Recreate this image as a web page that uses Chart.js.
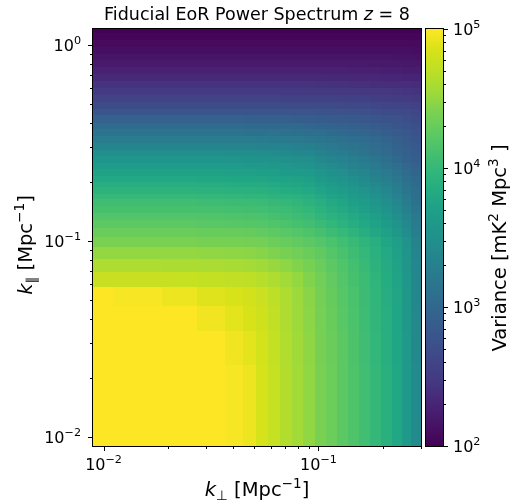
<!DOCTYPE html>
<html>
<head>
<meta charset="utf-8">
<script src="https://cdn.jsdelivr.net/npm/chart.js@4"></script>
<style>
  html, body { margin: 0; padding: 0; background: #fff; }
  canvas { display: block; }
</style>
</head>
<body>
<canvas id="ps" width="522" height="504"></canvas>
<script>
// bin edges [Mpc^-1]
const kPerpEdges = [0.00893, 0.0111, 0.0187, 0.0272, 0.0368, 0.0445, 0.051, 0.058, 0.066, 0.075, 0.085,
  0.096, 0.108, 0.122, 0.137, 0.154, 0.173, 0.195, 0.22, 0.245, 0.27, 0.3];
const kParEdges = [0.009, 0.0232, 0.0348, 0.0464, 0.058, 0.0696, 0.0812, 0.0928, 0.1044, 0.116, 0.1276,
  0.1392, 0.1508, 0.1624, 0.174, 0.187, 0.2, 0.215, 0.232, 0.25, 0.27, 0.29, 0.315, 0.34, 0.37, 0.4,
  0.435, 0.47, 0.51, 0.555, 0.6, 0.65, 0.705, 0.765, 0.83, 0.9, 0.975, 1.06, 1.15, 1.2];

// log10 of variance [mK^2 Mpc^3], one row per k_par bin, bottom row first
const logVariance = [
  [5.3, 5.3, 5.3, 5.2, 4.97, 4.93, 4.84, 4.75, 4.65, 4.56, 4.49, 4.4, 4.32, 4.24, 4.16, 4.08, 3.99, 3.89, 3.79, 3.62, 3.42],
  [5.3, 5.3, 5.25, 5.1, 4.95, 4.9, 4.83, 4.74, 4.64, 4.55, 4.48, 4.39, 4.31, 4.23, 4.15, 4.07, 3.98, 3.88, 3.78, 3.61, 3.41],
  [5.2, 5.15, 5.05, 4.95, 4.9, 4.85, 4.8, 4.72, 4.62, 4.54, 4.47, 4.38, 4.3, 4.22, 4.14, 4.06, 3.97, 3.87, 3.77, 3.6, 3.4],
  [5.02, 4.97, 4.93, 4.88, 4.85, 4.82, 4.77, 4.7, 4.62, 4.53, 4.46, 4.37, 4.29, 4.21, 4.13, 4.05, 3.96, 3.86, 3.76, 3.59, 3.39],
  [4.76, 4.76, 4.75, 4.74, 4.72, 4.7, 4.67, 4.62, 4.56, 4.5, 4.43, 4.35, 4.27, 4.19, 4.12, 4.04, 3.95, 3.85, 3.75, 3.58, 3.38],
  [4.62, 4.62, 4.61, 4.6, 4.59, 4.57, 4.55, 4.52, 4.48, 4.43, 4.38, 4.31, 4.24, 4.17, 4.1, 4.02, 3.93, 3.83, 3.73, 3.57, 3.37],
  [4.5, 4.5, 4.5, 4.49, 4.48, 4.47, 4.45, 4.42, 4.39, 4.35, 4.31, 4.26, 4.2, 4.13, 4.06, 3.99, 3.9, 3.81, 3.71, 3.55, 3.36],
  [4.4, 4.4, 4.4, 4.39, 4.38, 4.37, 4.36, 4.33, 4.3, 4.27, 4.23, 4.19, 4.14, 4.08, 4.02, 3.95, 3.87, 3.78, 3.69, 3.53, 3.34],
  [4.31, 4.31, 4.31, 4.3, 4.3, 4.29, 4.27, 4.25, 4.22, 4.19, 4.16, 4.11, 4.05, 4.0, 3.94, 3.86, 3.79, 3.7, 3.6, 3.45, 3.28],
  [4.23, 4.23, 4.23, 4.22, 4.21, 4.2, 4.19, 4.17, 4.14, 4.11, 4.08, 4.03, 3.98, 3.92, 3.86, 3.8, 3.72, 3.63, 3.54, 3.4, 3.24],
  [4.18, 4.18, 4.18, 4.17, 4.16, 4.15, 4.14, 4.12, 4.09, 4.06, 4.03, 3.97, 3.92, 3.87, 3.81, 3.75, 3.67, 3.58, 3.49, 3.36, 3.21],
  [4.12, 4.12, 4.12, 4.11, 4.1, 4.09, 4.08, 4.06, 4.04, 4.01, 3.98, 3.92, 3.86, 3.81, 3.75, 3.69, 3.61, 3.53, 3.43, 3.3, 3.17],
  [4.07, 4.07, 4.07, 4.06, 4.05, 4.04, 4.03, 4.01, 3.99, 3.96, 3.93, 3.87, 3.81, 3.76, 3.69, 3.63, 3.55, 3.46, 3.37, 3.25, 3.13],
  [4.0, 4.0, 4.0, 3.99, 3.98, 3.97, 3.96, 3.94, 3.92, 3.9, 3.87, 3.81, 3.75, 3.7, 3.64, 3.58, 3.5, 3.42, 3.33, 3.22, 3.1],
  [3.93, 3.93, 3.93, 3.92, 3.91, 3.9, 3.89, 3.87, 3.85, 3.83, 3.8, 3.74, 3.69, 3.64, 3.58, 3.52, 3.45, 3.37, 3.28, 3.18, 3.07],
  [3.87, 3.87, 3.87, 3.86, 3.85, 3.84, 3.83, 3.81, 3.79, 3.77, 3.74, 3.68, 3.63, 3.58, 3.52, 3.47, 3.4, 3.32, 3.24, 3.14, 3.04],
  [3.8, 3.8, 3.8, 3.79, 3.78, 3.77, 3.76, 3.74, 3.72, 3.7, 3.68, 3.62, 3.57, 3.52, 3.46, 3.41, 3.34, 3.27, 3.19, 3.1, 3.01],
  [3.73, 3.73, 3.73, 3.72, 3.71, 3.7, 3.69, 3.67, 3.65, 3.63, 3.61, 3.55, 3.5, 3.46, 3.4, 3.35, 3.28, 3.21, 3.14, 3.05, 2.97],
  [3.65, 3.65, 3.65, 3.64, 3.63, 3.62, 3.61, 3.6, 3.58, 3.56, 3.54, 3.48, 3.43, 3.39, 3.34, 3.29, 3.22, 3.15, 3.08, 3.0, 2.93],
  [3.56, 3.56, 3.56, 3.55, 3.55, 3.54, 3.53, 3.52, 3.5, 3.48, 3.46, 3.41, 3.36, 3.32, 3.27, 3.22, 3.16, 3.09, 3.02, 2.95, 2.89],
  [3.46, 3.46, 3.46, 3.46, 3.45, 3.45, 3.44, 3.43, 3.41, 3.39, 3.37, 3.32, 3.28, 3.24, 3.19, 3.15, 3.09, 3.03, 2.96, 2.9, 2.85],
  [3.36, 3.36, 3.36, 3.36, 3.35, 3.35, 3.34, 3.33, 3.32, 3.3, 3.29, 3.25, 3.21, 3.18, 3.14, 3.11, 3.05, 3.0, 2.95, 2.89, 2.83],
  [3.25, 3.25, 3.25, 3.25, 3.25, 3.24, 3.24, 3.23, 3.22, 3.21, 3.19, 3.17, 3.14, 3.11, 3.08, 3.05, 3.0, 2.96, 2.9, 2.86, 2.8],
  [3.14, 3.14, 3.14, 3.14, 3.14, 3.13, 3.13, 3.12, 3.11, 3.1, 3.09, 3.07, 3.04, 3.02, 2.99, 2.97, 2.93, 2.89, 2.86, 2.82, 2.77],
  [3.03, 3.03, 3.03, 3.03, 3.03, 3.02, 3.02, 3.01, 3.01, 3.0, 2.99, 2.97, 2.95, 2.94, 2.91, 2.89, 2.87, 2.83, 2.8, 2.77, 2.72],
  [2.92, 2.92, 2.92, 2.92, 2.92, 2.91, 2.91, 2.9, 2.9, 2.89, 2.88, 2.87, 2.85, 2.84, 2.83, 2.81, 2.79, 2.77, 2.75, 2.72, 2.67],
  [2.8, 2.8, 2.8, 2.8, 2.8, 2.8, 2.8, 2.79, 2.79, 2.78, 2.78, 2.77, 2.76, 2.75, 2.74, 2.73, 2.71, 2.69, 2.68, 2.66, 2.62],
  [2.69, 2.69, 2.69, 2.69, 2.69, 2.69, 2.69, 2.68, 2.68, 2.68, 2.67, 2.67, 2.66, 2.65, 2.65, 2.64, 2.63, 2.61, 2.6, 2.59, 2.56],
  [2.58, 2.58, 2.58, 2.58, 2.58, 2.58, 2.58, 2.58, 2.57, 2.57, 2.57, 2.56, 2.56, 2.55, 2.55, 2.54, 2.53, 2.52, 2.51, 2.5, 2.48],
  [2.49, 2.49, 2.49, 2.49, 2.49, 2.49, 2.49, 2.49, 2.49, 2.49, 2.48, 2.48, 2.48, 2.47, 2.47, 2.46, 2.46, 2.45, 2.44, 2.43, 2.42],
  [2.41, 2.41, 2.41, 2.41, 2.41, 2.41, 2.41, 2.41, 2.41, 2.41, 2.41, 2.4, 2.4, 2.4, 2.39, 2.39, 2.38, 2.38, 2.37, 2.37, 2.36],
  [2.34, 2.34, 2.34, 2.34, 2.34, 2.34, 2.34, 2.34, 2.34, 2.34, 2.34, 2.34, 2.33, 2.33, 2.33, 2.32, 2.32, 2.31, 2.31, 2.3, 2.3],
  [2.27, 2.27, 2.27, 2.27, 2.27, 2.27, 2.27, 2.27, 2.27, 2.27, 2.27, 2.27, 2.27, 2.27, 2.26, 2.26, 2.26, 2.25, 2.25, 2.24, 2.24],
  [2.21, 2.21, 2.21, 2.21, 2.21, 2.21, 2.21, 2.21, 2.21, 2.21, 2.21, 2.21, 2.21, 2.21, 2.21, 2.21, 2.2, 2.2, 2.2, 2.19, 2.19],
  [2.16, 2.16, 2.16, 2.16, 2.16, 2.16, 2.16, 2.16, 2.16, 2.16, 2.16, 2.16, 2.16, 2.16, 2.16, 2.16, 2.16, 2.16, 2.15, 2.15, 2.14],
  [2.12, 2.12, 2.12, 2.12, 2.12, 2.12, 2.12, 2.12, 2.12, 2.12, 2.12, 2.12, 2.12, 2.12, 2.12, 2.12, 2.12, 2.12, 2.12, 2.12, 2.11],
  [2.08, 2.08, 2.08, 2.08, 2.08, 2.08, 2.08, 2.08, 2.08, 2.08, 2.08, 2.08, 2.08, 2.08, 2.08, 2.08, 2.08, 2.08, 2.08, 2.08, 2.08],
  [2.04, 2.04, 2.04, 2.04, 2.04, 2.04, 2.04, 2.04, 2.04, 2.04, 2.04, 2.04, 2.04, 2.04, 2.04, 2.04, 2.04, 2.04, 2.04, 2.04, 2.04],
  [2.01, 2.01, 2.01, 2.01, 2.01, 2.01, 2.01, 2.01, 2.01, 2.01, 2.01, 2.01, 2.01, 2.01, 2.01, 2.01, 2.01, 2.01, 2.01, 2.01, 2.01]
];

// tick positions
const xTicks = [0.01, 0.02, 0.03, 0.04, 0.05, 0.06, 0.07, 0.08, 0.09, 0.1, 0.2, 0.3];
const yTicks = [0.01, 0.02, 0.03, 0.04, 0.05, 0.06, 0.07, 0.08, 0.09, 0.1, 0.2, 0.3, 0.4, 0.5, 0.6, 0.7, 0.8, 0.9, 1];
const cbTicks = [1e2, 2e2, 3e2, 4e2, 5e2, 6e2, 7e2, 8e2, 9e2, 1e3, 2e3, 3e3, 4e3, 5e3, 6e3, 7e3, 8e3, 9e3,
  1e4, 2e4, 3e4, 4e4, 5e4, 6e4, 7e4, 8e4, 9e4, 1e5];
const cbRange = [1e2, 1e5];

// viridis, 21 stops
const viridis = ['#440154', '#471365', '#482475', '#453781', '#414487', '#3b528b', '#355f8d', '#2f6c8e',
  '#2a788e', '#25848e', '#21918c', '#1e9c89', '#22a884', '#2fb47c', '#44bf70', '#5ec962', '#7ad151',
  '#a0da39', '#bddf26', '#d8e219', '#fde725'];

const FAM = '"DejaVu Sans"';
const fTick = '16px ' + FAM, fTickSup = '11.2px ' + FAM;
const fLab = '19.5px ' + FAM, fLabIt = 'italic 19.5px ' + FAM, fLabSup = '13.6px ' + FAM;
const fTitle = '17.5px ' + FAM, fTitleIt = 'italic 17.5px ' + FAM;

function hexRgb(h) {
  return [parseInt(h.slice(1, 3), 16), parseInt(h.slice(3, 5), 16), parseInt(h.slice(5, 7), 16)];
}
const vRgb = viridis.map(hexRgb);

function colorFor(logv) {
  let t = (logv - Math.log10(cbRange[0])) / (Math.log10(cbRange[1]) - Math.log10(cbRange[0]));
  t = Math.min(1, Math.max(0, t));
  const f = t * (vRgb.length - 1);
  const i = Math.min(vRgb.length - 2, Math.floor(f));
  const u = f - i;
  const c = vRgb[i].map((v, k) => Math.round(v + (vRgb[i + 1][k] - v) * u));
  return 'rgb(' + c.join(',') + ')';
}

function drawRich(ctx, parts, x, y, align) {
  let w = 0;
  for (const p of parts) { ctx.font = p.font; w += ctx.measureText(p.text).width; }
  let cx = align === 'center' ? x - w / 2 : align === 'right' ? x - w : x;
  ctx.textAlign = 'left';
  ctx.textBaseline = 'alphabetic';
  for (const p of parts) {
    ctx.font = p.font;
    ctx.fillText(p.text, cx, y + (p.dy || 0));
    cx += ctx.measureText(p.text).width;
  }
}

function powParts(v) {
  const e = Math.round(Math.log10(v));
  return [{ text: '10', font: fTick }, { text: e < 0 ? '\u2212' + (-e) : String(e), font: fTickSup, dy: -7 }];
}
const isMajor = v => Math.abs(Math.log10(v) - Math.round(Math.log10(v))) < 1e-6;

const heatmap = {
  id: 'heatmap',
  beforeDatasetsDraw(chart) {
    const { ctx, scales: { x, y } } = chart;
    ctx.save();
    for (let j = 0; j < logVariance.length; j++) {
      const yb = Math.round(y.getPixelForValue(kParEdges[j]));
      const yt = Math.round(y.getPixelForValue(kParEdges[j + 1]));
      for (let i = 0; i < logVariance[j].length; i++) {
        const x0 = Math.round(x.getPixelForValue(kPerpEdges[i]));
        const x1 = Math.round(x.getPixelForValue(kPerpEdges[i + 1]));
        ctx.fillStyle = colorFor(logVariance[j][i]);
        ctx.fillRect(x0, yt, x1 - x0, yb - yt);
      }
    }
    ctx.restore();
  },
  afterDraw(chart) {
    const { ctx, chartArea: a, scales: { x, y, gap, cb } } = chart;
    ctx.save();
    ctx.strokeStyle = '#000';
    ctx.fillStyle = '#000';
    ctx.lineWidth = 1;

    // spines
    ctx.strokeRect(a.left - 0.5, a.top - 0.5, a.right - a.left + 1, a.bottom - a.top + 1);

    // x and y ticks
    ctx.beginPath();
    for (const v of xTicks) {
      const px = Math.round(x.getPixelForValue(v)) + 0.5;
      ctx.moveTo(px, a.bottom + 0.5);
      ctx.lineTo(px, a.bottom + (isMajor(v) ? 5 : 3));
    }
    for (const v of yTicks) {
      const py = Math.round(y.getPixelForValue(v)) + 0.5;
      ctx.moveTo(a.left - 0.5, py);
      ctx.lineTo(a.left - (isMajor(v) ? 5 : 3), py);
    }
    ctx.stroke();

    for (const v of xTicks.filter(isMajor)) drawRich(ctx, powParts(v), x.getPixelForValue(v), a.bottom + 24, 'center');
    for (const v of yTicks.filter(isMajor)) drawRich(ctx, powParts(v), a.left - 12, y.getPixelForValue(v) + 6, 'right');

    // colorbar
    const cx0 = gap.left + 5, cx1 = gap.right;
    const ct = cb.getPixelForValue(cbRange[1]), cbm = cb.getPixelForValue(cbRange[0]);
    const grad = ctx.createLinearGradient(0, cbm, 0, ct);
    viridis.forEach((c, k) => grad.addColorStop(k / (viridis.length - 1), c));
    ctx.fillStyle = grad;
    ctx.fillRect(cx0, ct, cx1 - cx0, cbm - ct);
    ctx.strokeRect(cx0 - 0.5, ct - 0.5, cx1 - cx0 + 1, cbm - ct + 1);
    ctx.fillStyle = '#000';
    ctx.beginPath();
    for (const v of cbTicks) {
      const py = Math.round(cb.getPixelForValue(v)) + 0.5;
      ctx.moveTo(cx1 + 0.5, py);
      ctx.lineTo(cx1 + (isMajor(v) ? 5 : 3), py);
    }
    ctx.stroke();
    for (const v of cbTicks.filter(isMajor)) drawRich(ctx, powParts(v), cx1 + 10, cb.getPixelForValue(v) + 6, 'left');

    // titles
    const mid = (a.left + a.right) / 2;
    drawRich(ctx, [
      { text: 'Fiducial EoR Power Spectrum ', font: fTitle },
      { text: 'z', font: fTitleIt },
      { text: ' = 8', font: fTitle }
    ], mid, 20, 'center');

    const kLabel = sub => [
      { text: 'k', font: fLabIt },
      { text: sub, font: fLabSup, dy: 4 },
      { text: ' [Mpc', font: fLab },
      { text: '\u22121', font: fLabSup, dy: -8 },
      { text: ']', font: fLab }
    ];
    drawRich(ctx, kLabel('\u22A5'), mid, 496, 'center');

    ctx.save();
    ctx.translate(32, 245);
    ctx.rotate(-Math.PI / 2);
    drawRich(ctx, kLabel('\u2225'), 0, 0, 'center');
    ctx.restore();

    ctx.save();
    ctx.translate(506, 248);
    ctx.rotate(-Math.PI / 2);
    drawRich(ctx, [
      { text: 'Variance [mK', font: fLab },
      { text: '2', font: fLabSup, dy: -8 },
      { text: ' Mpc', font: fLab },
      { text: '3', font: fLabSup, dy: -8 },
      { text: ' ]', font: fLab }
    ], 0, 0, 'center');
    ctx.restore();

    ctx.restore();
  }
};

const hidden = { ticks: { display: false }, grid: { display: false }, border: { display: false } };

new Chart(document.getElementById('ps'), {
  type: 'scatter',
  data: { datasets: [] },
  options: {
    responsive: false,
    animation: false,
    events: [],
    layout: { padding: { top: 29, left: 0, right: 0, bottom: 0 } },
    plugins: { legend: { display: false }, tooltip: { enabled: false }, title: { display: false } },
    scales: {
      x: {
        type: 'logarithmic', position: 'bottom',
        min: kPerpEdges[0], max: kPerpEdges[kPerpEdges.length - 1],
        afterFit: s => { s.height = 58; }, ...hidden
      },
      y: {
        type: 'logarithmic', position: 'left',
        min: kParEdges[0], max: kParEdges[kParEdges.length - 1],
        afterFit: s => { s.width = 93; }, ...hidden
      },
      gap: {
        type: 'linear', position: 'right', display: true, weight: 1,
        afterFit: s => { s.width = 22; }, ...hidden
      },
      cb: {
        type: 'logarithmic', position: 'right', display: true, weight: 2,
        min: cbRange[0], max: cbRange[1],
        afterFit: s => { s.width = 79; }, ...hidden
      }
    }
  },
  plugins: [heatmap]
});
</script>
</body>
</html>
